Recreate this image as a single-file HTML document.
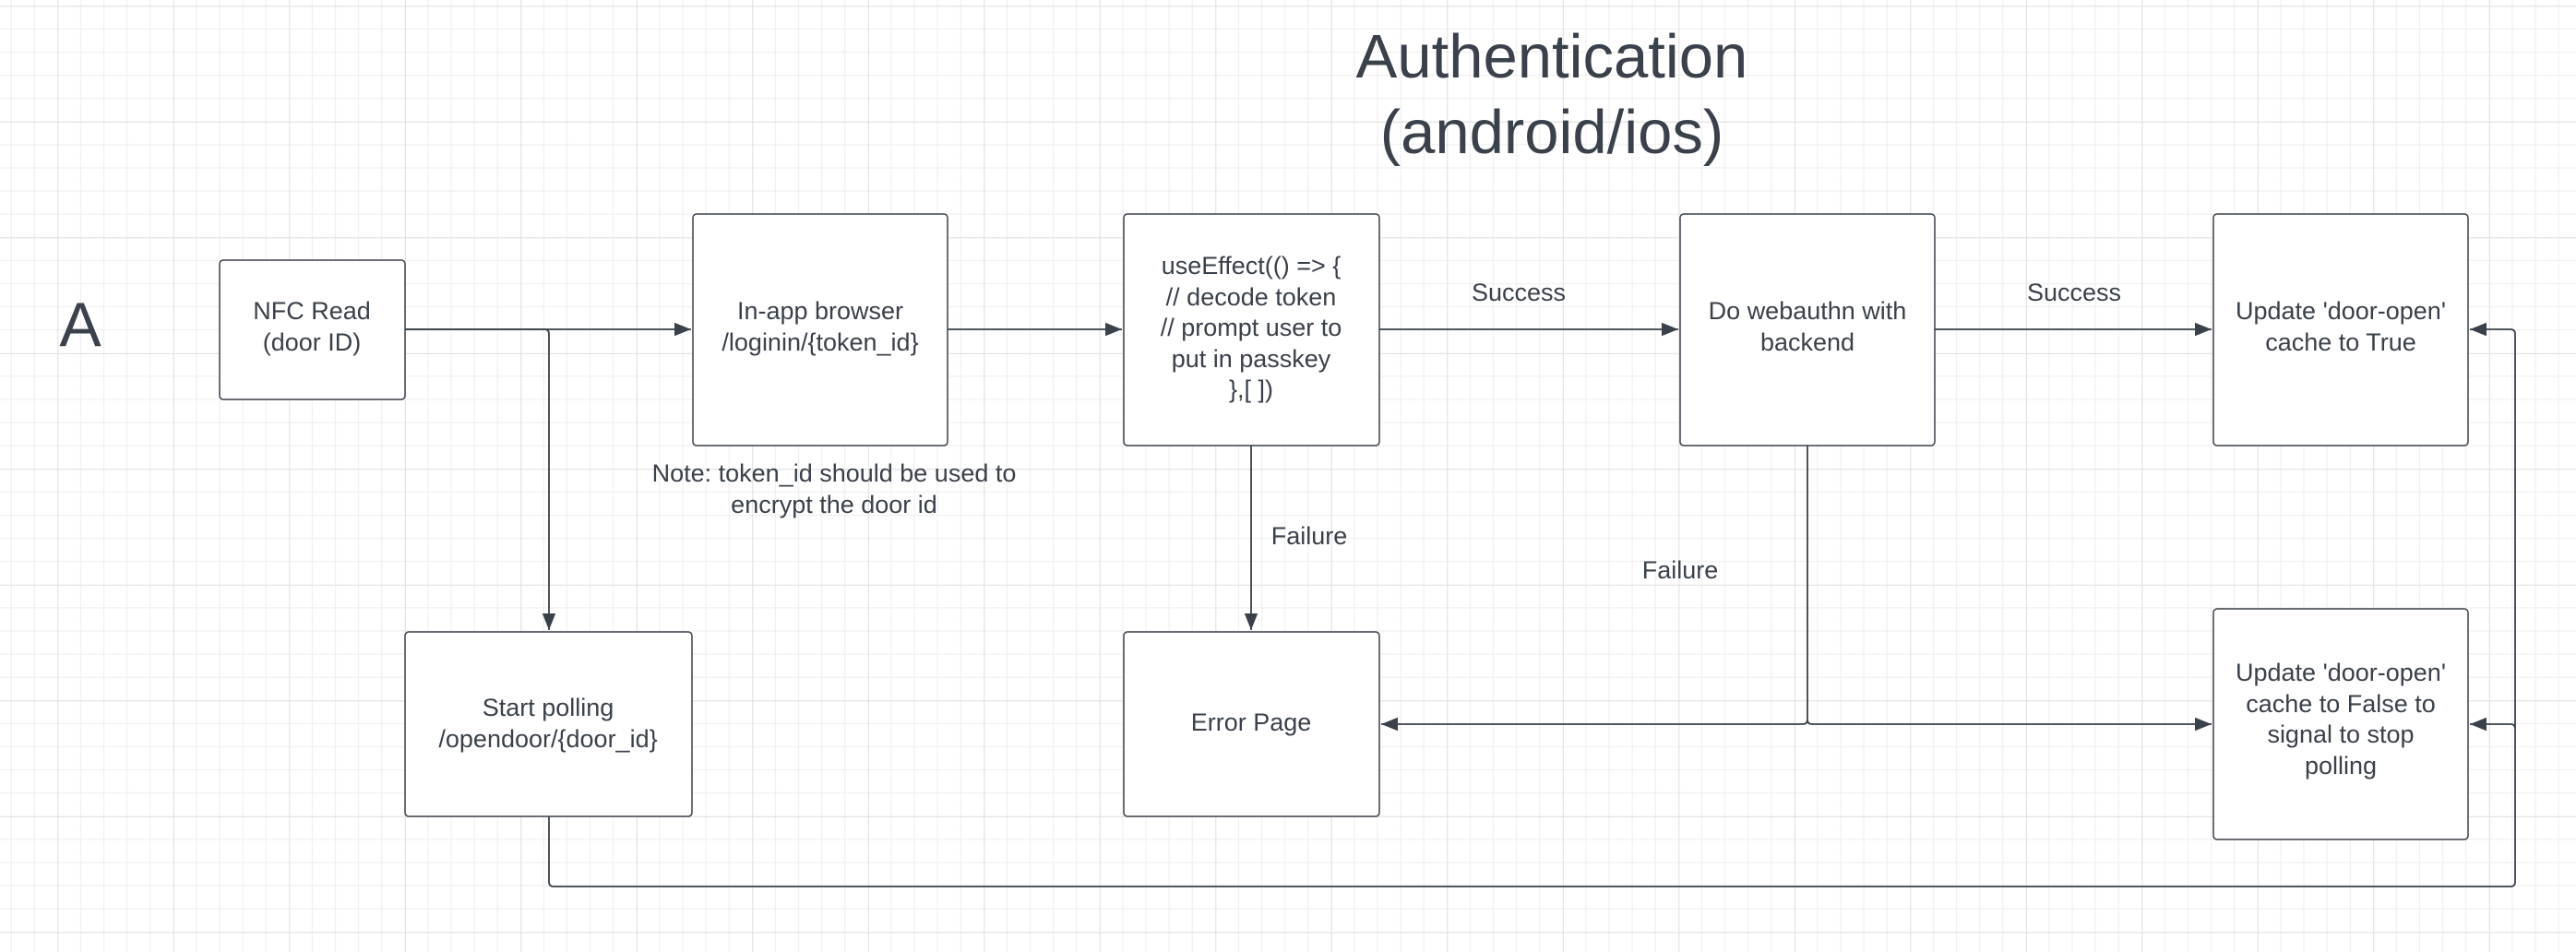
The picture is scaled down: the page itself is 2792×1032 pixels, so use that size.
<!DOCTYPE html>
<html><head><meta charset="utf-8"><style>
html,body{margin:0;padding:0;background:#fff}
svg{display:block}
text{font-family:"Liberation Sans",sans-serif;fill:#3a414a}
</style></head><body>
<svg width="2792" height="1032" viewBox="0 0 2792 1032" xmlns="http://www.w3.org/2000/svg">
<defs>
<pattern id="g" x="62.3" y="508.3" width="125.5" height="125.5" patternUnits="userSpaceOnUse">
<path d="M0 25.1H125.5M0 50.2H125.5M0 75.3H125.5M0 100.4H125.5M25.1 0V125.5M50.2 0V125.5M75.3 0V125.5M100.4 0V125.5" stroke="#ededed" stroke-width="1" fill="none"/>
<path d="M0 0.5H125.5M0.5 0V125.5" stroke="#dedede" stroke-width="1" fill="none"/>
</pattern>
<marker id="ar" viewBox="0 0 10 10" refX="10" refY="5" markerWidth="18" markerHeight="18" markerUnits="userSpaceOnUse" orient="auto">
<path d="M0 1L10 5L0 9Z" fill="#3a414a"/>
</marker>
</defs>
<rect width="2792" height="1032" fill="#fff"/>
<rect width="2792" height="1032" fill="url(#g)"/>

<g fill="#fff" stroke="#3a414a" stroke-width="1.5">
<rect x="238" y="282" width="201" height="151" rx="4"/>
<rect x="751" y="232" width="276" height="251" rx="4"/>
<rect x="1218" y="232" width="277" height="251" rx="4"/>
<rect x="1821" y="232" width="276" height="251" rx="4"/>
<rect x="2399" y="232" width="276" height="251" rx="4"/>
<rect x="439" y="685" width="311" height="200" rx="4"/>
<rect x="1218" y="685" width="277" height="200" rx="4"/>
<rect x="2399" y="660" width="276" height="250" rx="4"/>
</g>

<g stroke="#3a414a" stroke-width="1.8" fill="none">
<path d="M439 357H749" marker-end="url(#ar)"/>
<path d="M439 357H590q5 0 5 5V683" marker-end="url(#ar)"/>
<path d="M1027 357H1216" marker-end="url(#ar)"/>
<path d="M1495 357H1819" marker-end="url(#ar)"/>
<path d="M2097 357H2397" marker-end="url(#ar)"/>
<path d="M1356 483V683" marker-end="url(#ar)"/>
<path d="M1959 483V780q0 5 -5 5H1497" marker-end="url(#ar)"/>
<path d="M1959 780q0 5 5 5H2397"  marker-end="url(#ar)"/>
<path d="M595 885V956q0 5 5 5H2721q5 0 5 -5V362q0 -5 -5 -5H2677" marker-end="url(#ar)"/>
<path d="M2726 790q0 -5 -5 -5H2677" marker-end="url(#ar)"/>
</g>

<text x="1682" y="84" font-size="67" text-anchor="middle">Authentication</text>
<text x="1682" y="166" font-size="67" text-anchor="middle">(android/ios)</text>
<text x="87" y="375" font-size="68" text-anchor="middle">A</text>

<g font-size="27" text-anchor="middle">
<text x="338" y="346">NFC Read</text>
<text x="338" y="380">(door ID)</text>
<text x="889" y="346">In-app browser</text>
<text x="889" y="380">/loginin/{token_id}</text>
<text x="1356" y="297">useEffect(() =&gt; {</text>
<text x="1356" y="331">// decode token</text>
<text x="1356" y="364">// prompt user to</text>
<text x="1356" y="398">put in passkey</text>
<text x="1356" y="431">},[ ])</text>
<text x="1959" y="346">Do webauthn with</text>
<text x="1959" y="380">backend</text>
<text x="2537" y="346">Update 'door-open'</text>
<text x="2537" y="380">cache to True</text>
<text x="594" y="776">Start polling</text>
<text x="594" y="810">/opendoor/{door_id}</text>
<text x="1356" y="792">Error Page</text>
<text x="2537" y="738">Update 'door-open'</text>
<text x="2537" y="772">cache to False to</text>
<text x="2537" y="805">signal to stop</text>
<text x="2537" y="839">polling</text>
<text x="904" y="522">Note: token_id should be used to</text>
<text x="904" y="556">encrypt the door id</text>
<text x="1646" y="326">Success</text>
<text x="2248" y="326">Success</text>
<text x="1419" y="590">Failure</text>
<text x="1821" y="627">Failure</text>
</g>
</svg>
</body></html>
